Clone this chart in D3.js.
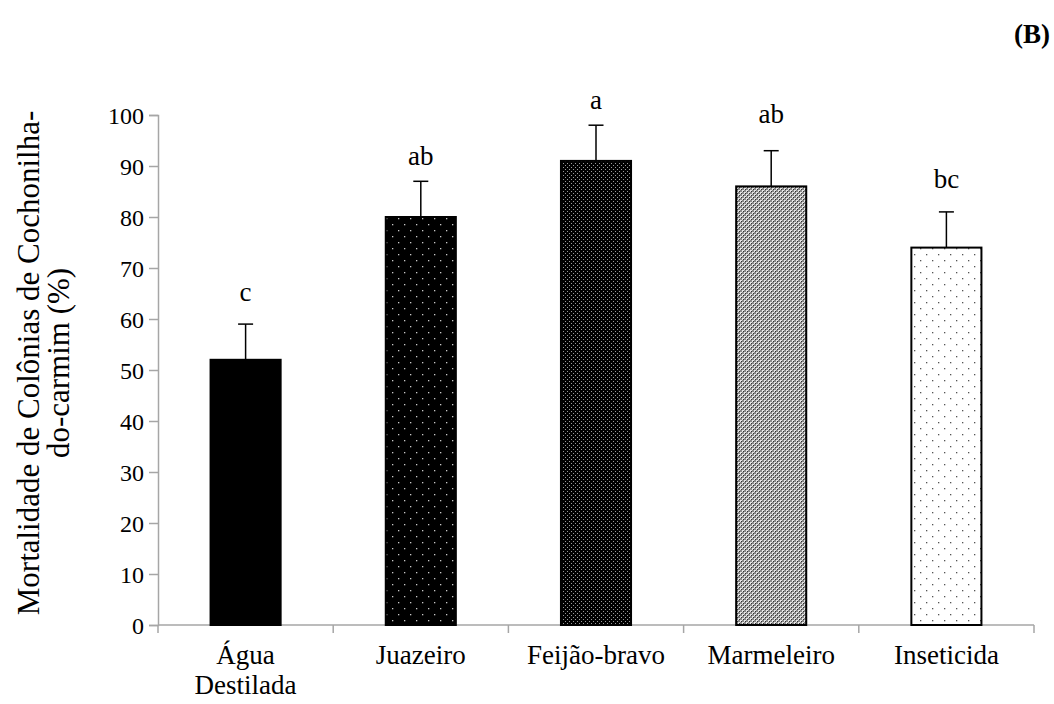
<!DOCTYPE html>
<html>
<head>
<meta charset="utf-8">
<script src="https://cdn.jsdelivr.net/npm/d3@7"></script>
<style>
  body { margin: 0; background: #fff; }
  svg { display: block; font-family: "Liberation Serif", "Times New Roman", serif; }
</style>
</head>
<body>
<svg id="chart" width="1054" height="704"></svg>
<script>
// Treatments and their mean mortality (%) with standard error
const categories = ["Água\nDestilada", "Juazeiro", "Feijão-bravo", "Marmeleiro", "Inseticida"];
const means = [52, 80, 91, 86, 74];
const errors = [7, 7, 7, 7, 7];
const groupLetters = ["c", "ab", "a", "ab", "bc"];
const letterHeights = [63.5, 90.2, 101.2, 98.4, 85.7];
const yTicks = [0, 10, 20, 30, 40, 50, 60, 70, 80, 90, 100];
const fills = ["solid", "dotsSparse", "dotsDense", "checker", "dotsLight"];

const svg = d3.select("#chart");

const x = d3.scaleBand().domain(categories).range([158, 1034]).paddingInner(0.6).paddingOuter(0.3);
const xBoundary = d3.scaleLinear().domain([0, categories.length]).range([158, 1034]);
const y = d3.scaleLinear().domain([0, 100]).range([625, 115]);

// Fill patterns
const defs = svg.append("defs");
function pattern(id, w, h, bg, dots, color, r) {
  const p = defs.append("pattern").attr("id", id).attr("patternUnits", "userSpaceOnUse")
    .attr("width", w).attr("height", h);
  p.append("rect").attr("width", w).attr("height", h).attr("fill", bg);
  dots.forEach(([cx, cy]) => p.append("rect").attr("x", cx).attr("y", cy)
    .attr("width", r).attr("height", r).attr("fill", color));
}
pattern("dotsSparse", 12, 12, "#000", [[2, 2], [8, 8]], "#c8c8c8", 1.3);
pattern("dotsDense", 4, 4, "#000", [[1, 1], [3, 3]], "#9a9a9a", 1);
pattern("dotsLight", 12, 12, "#fff", [[2, 2], [8, 8]], "#555", 1.3);
(function () {
  const p = defs.append("pattern").attr("id", "checker").attr("patternUnits", "userSpaceOnUse")
    .attr("width", 4).attr("height", 4);
  p.append("rect").attr("width", 4).attr("height", 4).attr("fill", "#8a8a8a");
  p.append("rect").attr("x", 0).attr("y", 0).attr("width", 2).attr("height", 2).attr("fill", "#e6e6e6");
  p.append("rect").attr("x", 2).attr("y", 2).attr("width", 2).attr("height", 2).attr("fill", "#e6e6e6");
  p.append("rect").attr("x", 1).attr("y", 1).attr("width", 1).attr("height", 1).attr("fill", "#333");
  p.append("rect").attr("x", 3).attr("y", 3).attr("width", 1).attr("height", 1).attr("fill", "#333");
})();

const fillFor = f => f === "solid" ? "#000" : `url(#${f})`;

// Y axis
const yAxis = d3.axisLeft(y).tickValues(yTicks).tickSize(9).tickPadding(5);
const gy = svg.append("g").attr("transform", "translate(158,0)").call(yAxis);
gy.select(".domain").attr("stroke", "#a6a6a6").attr("stroke-width", 1.5);
gy.selectAll(".tick line").attr("stroke", "#a6a6a6").attr("stroke-width", 1.5);
gy.selectAll(".tick text").attr("font-size", 24).attr("fill", "#000")
  .attr("font-family", "Liberation Serif").attr("dy", "0.34em");

// X axis baseline and category boundary ticks
svg.append("line").attr("x1", 158).attr("x2", 1034).attr("y1", y(0)).attr("y2", y(0))
  .attr("stroke", "#a6a6a6").attr("stroke-width", 1.5);
d3.range(categories.length + 1).forEach(i => {
  svg.append("line").attr("x1", xBoundary(i)).attr("x2", xBoundary(i))
    .attr("y1", y(0)).attr("y2", y(0) + 8).attr("stroke", "#a6a6a6").attr("stroke-width", 1.5);
});

// Error bars (upper side only)
const bw = x.bandwidth();
categories.forEach((c, i) => {
  const cx = x(c) + bw / 2;
  svg.append("line").attr("x1", cx).attr("x2", cx)
    .attr("y1", y(means[i])).attr("y2", y(means[i] + errors[i]))
    .attr("stroke", "#000").attr("stroke-width", 1.5);
  svg.append("line").attr("x1", cx - 7.5).attr("x2", cx + 7.5)
    .attr("y1", y(means[i] + errors[i])).attr("y2", y(means[i] + errors[i]))
    .attr("stroke", "#000").attr("stroke-width", 1.5);
});

// Bars
svg.append("g").selectAll("rect").data(categories).join("rect")
  .attr("x", d => x(d))
  .attr("y", (d, i) => y(means[i]))
  .attr("width", bw)
  .attr("height", (d, i) => y(0) - y(means[i]))
  .attr("fill", (d, i) => fillFor(fills[i]))
  .attr("stroke", "#000").attr("stroke-width", 2);

// Significance letters
svg.append("g").selectAll("text").data(categories).join("text")
  .attr("x", d => x(d) + bw / 2)
  .attr("y", (d, i) => y(letterHeights[i]))
  .attr("text-anchor", "middle").attr("font-size", 27)
  .text((d, i) => groupLetters[i]);

// Category labels
categories.forEach(c => {
  const t = svg.append("text").attr("x", x(c) + bw / 2).attr("y", 664)
    .attr("text-anchor", "middle").attr("font-size", 27);
  c.split("\n").forEach((line, k) => {
    t.append("tspan").attr("x", x(c) + bw / 2).attr("dy", k === 0 ? 0 : 30).text(line);
  });
});

// Y axis title
const yt = svg.append("text").attr("transform", "translate(0,363) rotate(-90)")
  .attr("text-anchor", "middle").attr("font-size", 31);
yt.append("tspan").attr("x", 0).attr("y", 39).text("Mortalidade de Colônias de Cochonilha-");
yt.append("tspan").attr("x", 0).attr("y", 69).text("do-carmim (%)");

// Panel tag
svg.append("text").attr("x", 1050).attr("y", 43).attr("text-anchor", "end")
  .attr("font-size", 27).attr("font-weight", "bold").text("(B)");
</script>
</body>
</html>
